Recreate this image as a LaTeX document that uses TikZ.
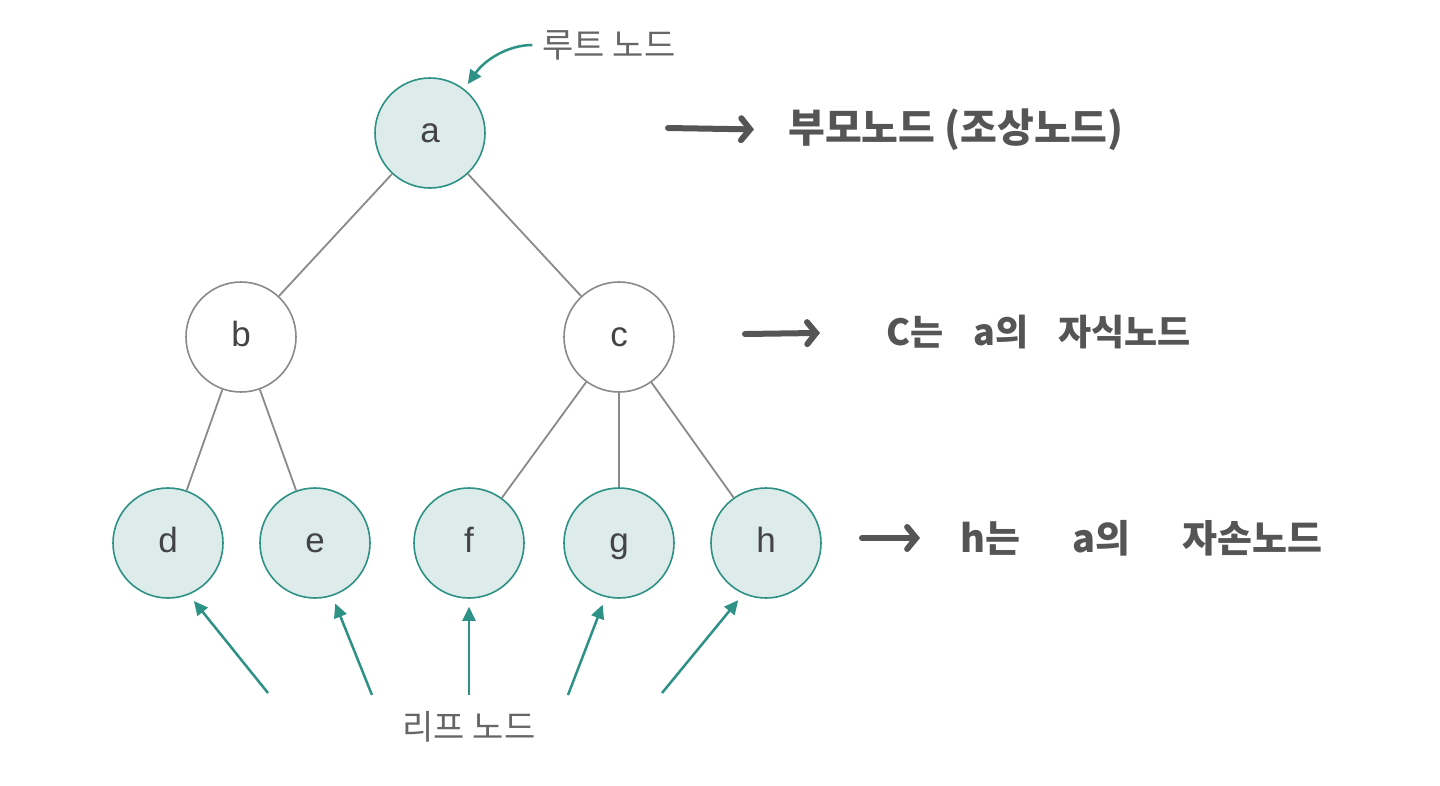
\documentclass[tikz,border=0pt]{standalone}
\usepackage{fontspec}
\setmainfont{Liberation Sans}
\newfontfamily\kr{Noto Sans CJK KR}
\usetikzlibrary{arrows.meta}
\definecolor{nodefill}{HTML}{DDEBEB}
\definecolor{tealline}{HTML}{2E9185}
\definecolor{edgegray}{HTML}{8A8A8A}
\definecolor{handgray}{HTML}{555555}
\definecolor{lblgray}{HTML}{666666}
\definecolor{lettergray}{HTML}{444444}
\tikzset{
  treenode/.style={circle, minimum size=110pt, inner sep=0pt, line width=1.6pt,
    font=\fontsize{35}{35}\selectfont, text=lettergray, text height=25pt, text depth=7pt},
  leafnode/.style={treenode, draw=tealline, fill=nodefill},
  innernode/.style={treenode, draw=edgegray, fill=white},
  edge/.style={draw=edgegray, line width=1.8pt},
  tealarrow/.style={draw=tealline, line width=2.5pt, -{Triangle[length=14pt,width=13pt]}},
  handarrow/.style={draw=handgray, line width=6pt, line cap=round,
    -{Straight Barb[length=9pt,width=22pt,line cap=round]}},
  handtext/.style={anchor=west, inner sep=0pt, text=handgray,
    font=\kr\bfseries\fontsize{40}{40}\selectfont},
  graylabel/.style={inner sep=0pt, text=lblgray, font=\kr\fontsize{34}{34}\selectfont}
}
\begin{document}
\begin{tikzpicture}[x=1pt,y=-1pt]
\useasboundingbox[fill=white] (0,0) rectangle (1440,785);
% tree nodes
\node[leafnode] (a) at (430,133) {a};
\node[innernode] (b) at (241,337) {b};
\node[innernode] (c) at (619,337) {c};
\node[leafnode] (d) at (168,543) {d};
\node[leafnode] (e) at (315,543) {e};
\node[leafnode] (f) at (469,543) {f};
\node[leafnode] (g) at (619,543) {g};
\node[leafnode] (h) at (766,543) {h};
% edges
\draw[edge] (a) -- (b);
\draw[edge] (a) -- (c);
\draw[edge] (b) -- (d);
\draw[edge] (b) -- (e);
\draw[edge] (c) -- (f);
\draw[edge] (c) -- (g);
\draw[edge] (c) -- (h);
% root label
\node[graylabel] (root) at (609,45) {루트 노드};
\draw[tealarrow, shorten <=10pt, shorten >=6pt] (root.west) to[out=180, in=55] (a.52);
% leaf label
\node[graylabel] (leaf) at (469,727) {리프 노드};
\coordinate (ld) at (268,693);
\coordinate (le) at (372,695);
\coordinate (lf) at (469,695);
\coordinate (lg) at (568,695);
\coordinate (lh) at (662,693);
\draw[tealarrow, shorten >=8pt] (ld) -- (d.-68);
\draw[tealarrow, shorten >=8pt] (le) -- (e.-72);
\draw[tealarrow, shorten >=8pt] (lf) -- (f.-90);
\draw[tealarrow, shorten >=8pt] (lg) -- (g.-104);
\draw[tealarrow, shorten >=8pt] (lh) -- (h.-114);
% handwritten notes
\node[handtext] (t1) at (788,130) {부모노드 (조상노드)};
\node[handtext, font=\kr\bfseries\fontsize{36}{36}\selectfont] (t2) at (886,332) {C는\hspace{30pt}a의\hspace{30pt}자식노드};
\node[handtext, font=\kr\bfseries\fontsize{38}{38}\selectfont] (t3) at (960,538) {h는\hspace{52pt}a의\hspace{52pt}자손노드};
\coordinate (s1) at (668,128);
\coordinate (s2) at (745,334);
\coordinate (s3) at (862,538);
\draw[handarrow, shorten >=34pt] (s1) -- (t1.west);
\draw[handarrow, shorten >=66pt] (s2) -- (t2.west);
\draw[handarrow, shorten >=40pt] (s3) -- (t3.west);
\end{tikzpicture}
\end{document}
